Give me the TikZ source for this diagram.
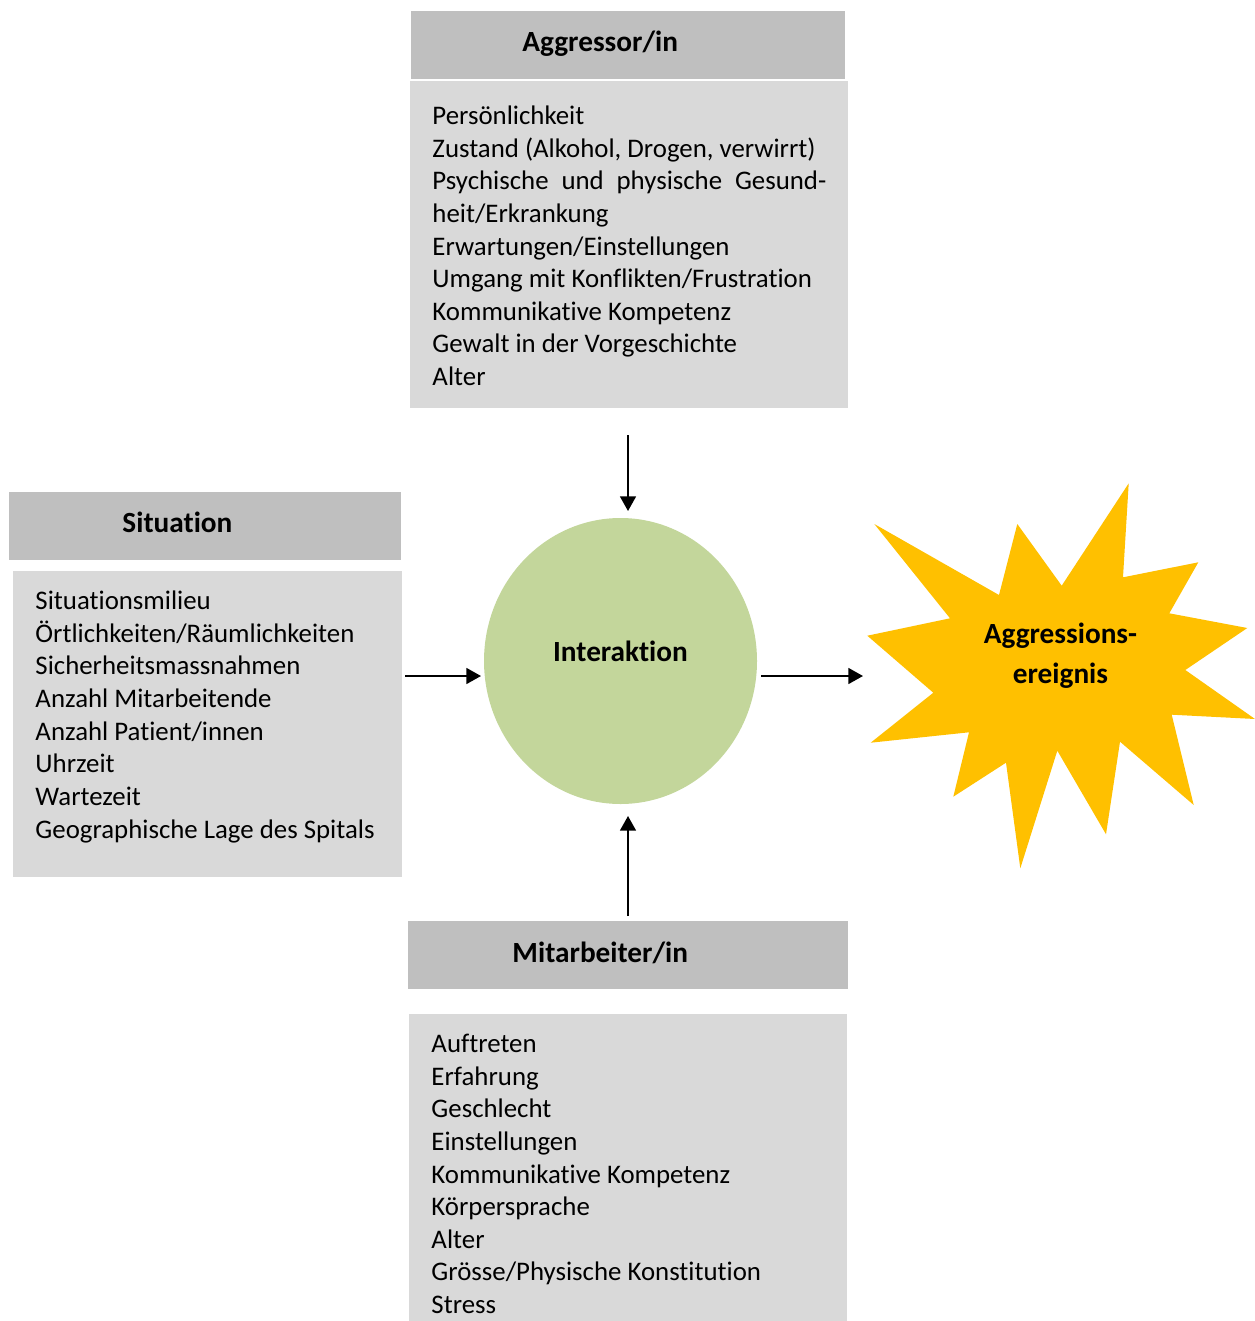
\documentclass[tikz,border=0pt]{standalone}
\usepackage{fontspec}
\setmainfont{Carlito}[Ligatures=NoCommon]
\usetikzlibrary{arrows.meta}
\definecolor{headgray}{HTML}{BFBFBF}
\definecolor{bodygray}{HTML}{D9D9D9}
\definecolor{circgreen}{HTML}{C3D69B}
\definecolor{staryellow}{HTML}{FFC000}
\tikzset{
  headbox/.style={fill=headgray, draw=none},
  bodybox/.style={fill=bodygray, draw=none},
  headtext/.style={anchor=base west, inner sep=0pt, font=\fontsize{12}{14.6}\selectfont\bfseries},
  % multi-line lists: the base anchor sits on the baseline of the last line
  listtext/.style={anchor=base west, inner sep=0pt, align=left, font=\fontsize{11}{13.37}\selectfont},
  arr/.style={line width=0.8pt, -{Triangle[length=6pt,width=6.5pt]}},
}
\begin{document}
\begin{tikzpicture}[x=0.41pt, y=-0.41pt]
\useasboundingbox (0,0) rectangle (1255,1321);

% --- Aggressor/in ---
\fill[headbox] (411,11) rectangle (845,79);
\fill[bodybox] (410,81) rectangle (848,408);
\node[headtext] (agghead) at (522,52) {Aggressor/in};
\node[listtext] (agglist) at (432,385.5) {Persönlichkeit\\
Zustand (Alkohol, Drogen, verwirrt)\\
\hbox to 161.5pt{Psychische\hfill und\hfill physische\hfill Gesund-}\\
heit/Erkrankung\\
Erwartungen/Einstellungen\\
Umgang mit Konflikten/Frustration\\
Kommunikative Kompetenz\\
Gewalt in der Vorgeschichte\\
Alter};

% --- Situation ---
\fill[headbox] (9,492) rectangle (401,560);
\fill[bodybox] (13,571) rectangle (402,877);
\node[headtext] (sithead) at (122,532.5) {Situation};
\node[listtext] (sitlist) at (35,838) {Situationsmilieu\\
Örtlichkeiten/Räumlichkeiten\\
Sicherheitsmassnahmen\\
Anzahl Mitarbeitende\\
Anzahl Patient/innen\\
Uhrzeit\\
Wartezeit\\
Geographische Lage des Spitals};

% --- Mitarbeiter/in ---
\fill[headbox] (408,921) rectangle (848,989);
\fill[bodybox] (409,1014) rectangle (847,1321);
\node[headtext] (mithead) at (512,962) {Mitarbeiter/in};
\node[listtext] (mitlist) at (431,1313.5) {Auftreten\\
Erfahrung\\
Geschlecht\\
Einstellungen\\
Kommunikative Kompetenz\\
Körpersprache\\
Alter\\
Grösse/Physische Konstitution\\
Stress};

% --- Interaktion ---
\fill[circgreen] (620.5,661) ellipse [x radius=136.5, y radius=143];
\node[inner sep=0pt, anchor=base, font=\fontsize{12}{14.6}\selectfont\bfseries] (inter) at (620.5,661.5) {Interaktion};

% --- Aggressionsereignis (explosion star) ---
\fill[staryellow] (874.3,524) -- (999,595) -- (1017.3,524) -- (1061.7,585.7)
  -- (1128.7,483.3) -- (1123,577.3) -- (1198.3,562.3) -- (1169.3,613.3)
  -- (1247.3,628) -- (1185.3,670) -- (1255,719) -- (1171.7,714.7)
  -- (1193.7,805) -- (1120,741.7) -- (1106,834.3) -- (1057.3,750.7)
  -- (1020.3,868.3) -- (1006,762.7) -- (953.3,796.7) -- (969,732.3)
  -- (870.7,742.7) -- (933.3,692.7) -- (867.3,635.7) -- (950,618.3) -- cycle;
\node[inner sep=0pt, anchor=base, font=\fontsize{12}{14.6}\selectfont\bfseries] (ev1) at (1060.5,643) {Aggressions-};
\node[inner sep=0pt, anchor=base, font=\fontsize{12}{14.6}\selectfont\bfseries] (ev2) at (1060.5,683) {ereignis};

% --- connectors ---
\coordinate (topS) at (628,435);  \coordinate (topE) at (628,511);
\coordinate (leftS) at (405,676); \coordinate (leftE) at (481,676);
\coordinate (rightS) at (761,676); \coordinate (rightE) at (863,676);
\coordinate (botS) at (628,916);  \coordinate (botE) at (628,816);
\draw[arr] (topS) -- (topE);
\draw[arr] (leftS) -- (leftE);
\draw[arr] (rightS) -- (rightE);
\draw[arr] (botS) -- (botE);
\end{tikzpicture}
\end{document}
